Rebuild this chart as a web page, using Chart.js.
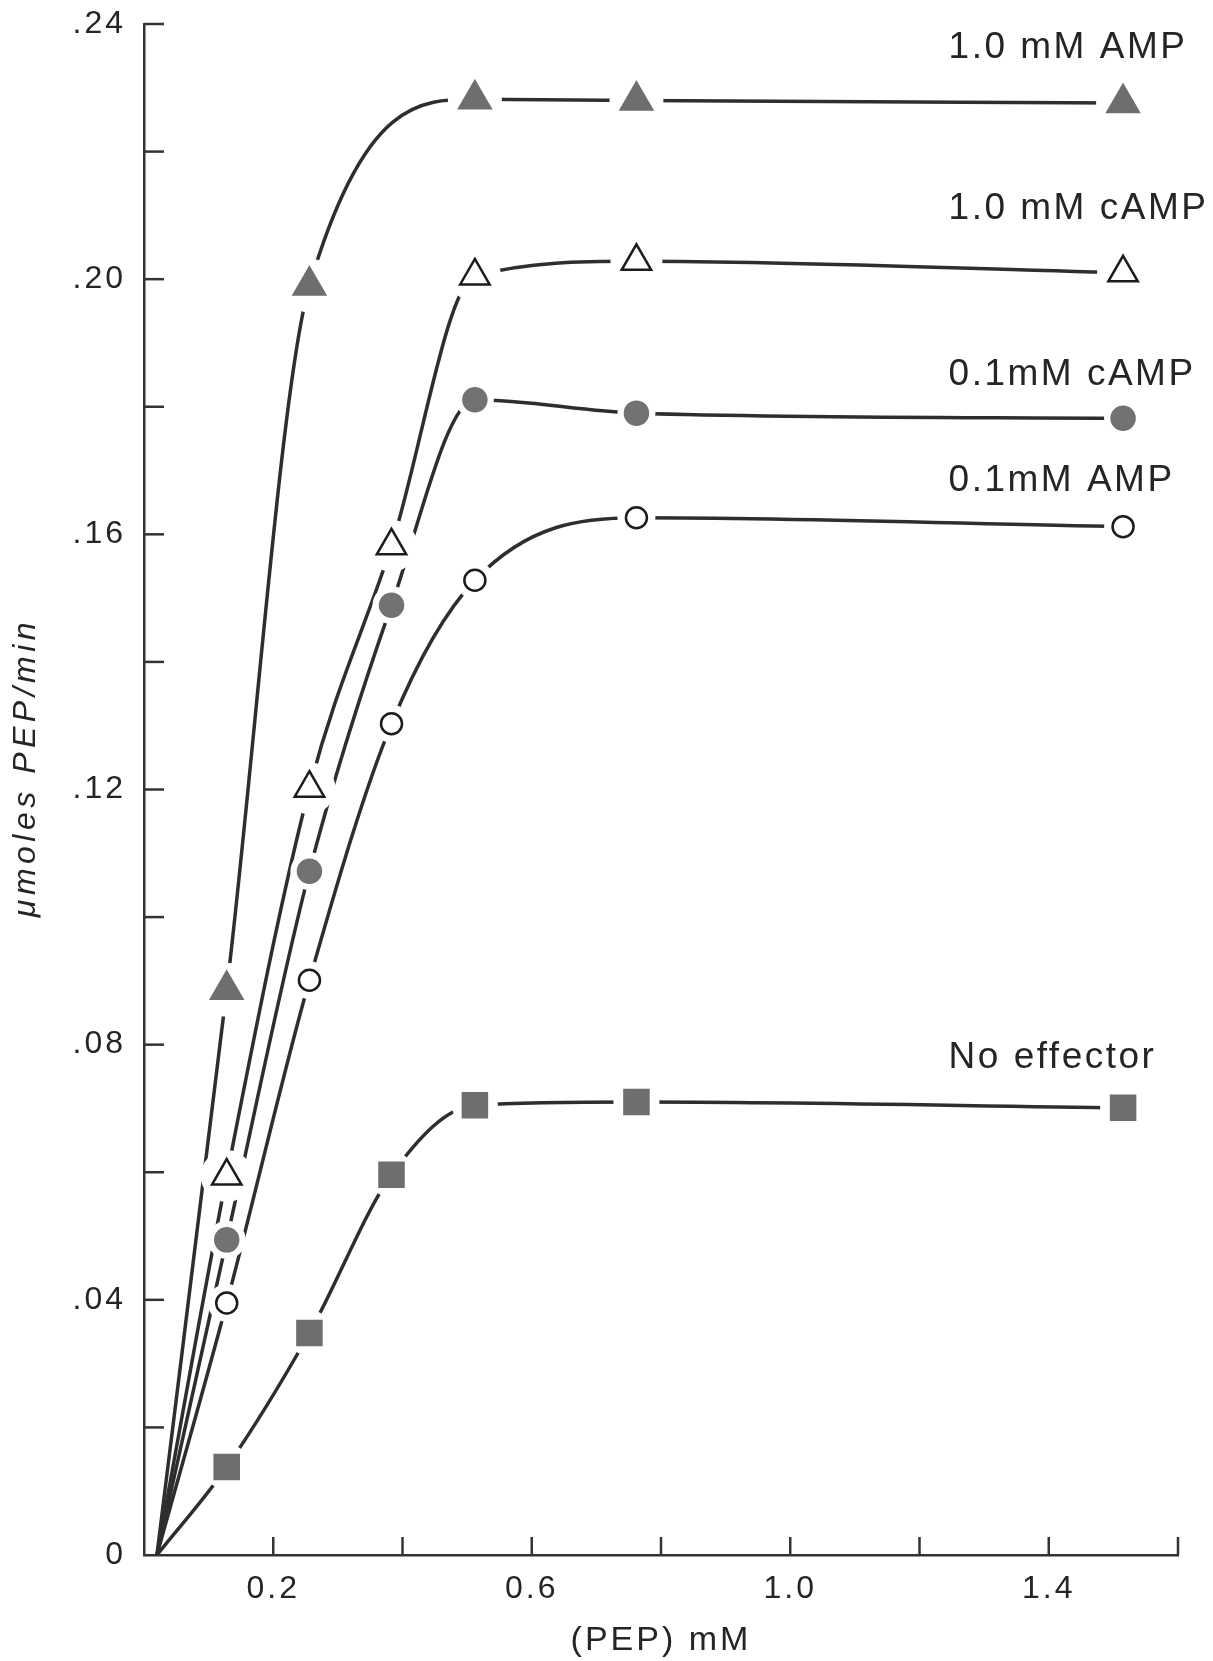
<!DOCTYPE html>
<html>
<head>
<meta charset="utf-8">
<script src="https://cdn.jsdelivr.net/npm/chart.js@4.4.1/dist/chart.umd.min.js"></script>
<style>
  html, body { margin: 0; padding: 0; background: #fff; }
  #wrap { width: 1213px; height: 1661px; position: relative; }
</style>
</head>
<body>
<div id="wrap"><canvas id="pep"></canvas></div>
<script>
// PEP concentrations (mM) and rates (umoles PEP/min)
const pepConc = [0.128, 0.256, 0.383, 0.512, 0.762, 1.515];
const curveStart = 0.02; // the curves all leave the x axis here
const seriesNames = ['1.0 mM AMP', '1.0 mM cAMP', '0.1mM cAMP', '0.1mM AMP', 'No effector'];
const amp10 = [0.0886, 0.199, null, 0.2282, 0.228, 0.2276];
const camp10 = [0.0594, 0.1202, 0.1582, 0.2005, 0.2028, 0.201];
const camp01 = [0.0494, 0.1072, 0.1489, 0.1811, 0.179, 0.1782];
const amp01 = [0.0395, 0.0901, 0.1303, 0.1528, 0.1626, 0.1612];
const noEffector = [0.0138, 0.0348, 0.0596, 0.0705, 0.071, 0.0701];

const xTickValues = [0.2, 0.6, 1.0, 1.4];
const xTickLabels = ['0.2', '0.6', '1.0', '1.4'];
const yTickValues = [0, 0.04, 0.08, 0.12, 0.16, 0.20, 0.24];
const yTickLabels = ['0', '.04', '.08', '.12', '.16', '.20', '.24'];
const yTitle = 'μmoles PEP/min';

// where each series name is written (data units)
const labelSpots = [[1.245, 0.2363], [1.245, 0.2111], [1.245, 0.185], [1.245, 0.1684], [1.245, 0.0779]];

const ink = '#252525';
const face = '"Liberation Sans", Arial, sans-serif';
const markerStyles = [
  { shape: 'triangle', r: 18, fill: '#6e6e6e', edge: '#6e6e6e', gap: 27 },
  { shape: 'triangle', r: 17, fill: '#ffffff', edge: '#1c1c1c', gap: 26 },
  { shape: 'circle', r: 11.5, fill: '#727272', edge: '#727272', gap: 19 },
  { shape: 'circle', r: 10.5, fill: '#ffffff', edge: '#1c1c1c', gap: 19 },
  { shape: 'rect', r: 17, fill: '#6e6e6e', edge: '#6e6e6e', gap: 23 }
];

function pickLabel(values, labels, v) {
  const i = values.findIndex(t => Math.abs(t - v) < 1e-6);
  return i < 0 ? '' : labels[i];
}

const datasets = [];
[amp10, camp10, camp01, amp01, noEffector].forEach((vals, i) => {
  const pts = pepConc.map((x, j) => ({ x: x, y: vals[j] })).filter(p => p.y !== null);
  const st = markerStyles[i];
  // the curve
  datasets.push({
    label: seriesNames[i], data: [{ x: curveStart, y: 0 }].concat(pts),
    borderColor: '#2e2e2e', borderWidth: 3.5, pointRadius: 0,
    cubicInterpolationMode: 'monotone', fill: false, order: 3
  });
  // white patch so lines stop short of the symbols
  datasets.push({
    label: seriesNames[i] + ' gap', data: pts, showLine: false,
    pointStyle: 'circle', pointRadius: st.gap, pointBackgroundColor: '#fff', pointBorderWidth: 0, order: 2
  });
  // the symbols
  datasets.push({
    label: seriesNames[i] + ' pts', data: pts, showLine: false,
    pointStyle: st.shape, pointRadius: st.r, pointBackgroundColor: st.fill,
    pointBorderColor: st.edge, pointBorderWidth: 2.5, order: 1
  });
});

const innerTicks = {
  id: 'innerTicks',
  beforeDraw(chart) {
    chart.ctx.letterSpacing = '3px';
  },
  beforeDatasetsDraw(chart) {
    const { ctx, scales: { x, y } } = chart;
    ctx.save();
    ctx.strokeStyle = '#333';
    ctx.lineWidth = 2.5;
    x.ticks.forEach(t => {
      if (t.value <= 0) return;
      const px = x.getPixelForValue(t.value);
      ctx.beginPath(); ctx.moveTo(px, x.top); ctx.lineTo(px, x.top - 18); ctx.stroke();
    });
    y.ticks.forEach(t => {
      if (t.value <= 0) return;
      const py = y.getPixelForValue(t.value);
      ctx.beginPath(); ctx.moveTo(y.right, py); ctx.lineTo(y.right + 20, py); ctx.stroke();
    });
    ctx.restore();
  }
};

const textLayer = {
  id: 'textLayer',
  afterDatasetsDraw(chart) {
    const { ctx, scales: { x, y } } = chart;
    ctx.save();
    ctx.font = '37px ' + face;
    ctx.letterSpacing = '2.5px';
    ctx.fillStyle = ink;
    ctx.textAlign = 'left';
    ctx.textBaseline = 'middle';
    seriesNames.forEach((name, i) => {
      ctx.fillText(name, x.getPixelForValue(labelSpots[i][0]), y.getPixelForValue(labelSpots[i][1]));
    });
    ctx.restore();

    // y axis title, sits a little above the middle of the axis as in the original
    ctx.save();
    ctx.font = 'italic 32px ' + face;
    ctx.letterSpacing = '4.5px';
    ctx.fillStyle = ink;
    ctx.textAlign = 'center';
    ctx.textBaseline = 'middle';
    ctx.translate(26, (y.top + y.bottom) / 2 - 22);
    ctx.rotate(-Math.PI / 2);
    ctx.fillText(yTitle, 0, 0);
    ctx.restore();
  }
};

new Chart(document.getElementById('pep'), {
  type: 'line',
  data: { datasets: datasets },
  plugins: [innerTicks, textLayer],
  options: {
    responsive: true,
    maintainAspectRatio: false,
    animation: false,
    events: [],
    layout: { autoPadding: false, padding: { top: 24, right: 35, left: 0, bottom: 0 } },
    plugins: { legend: { display: false }, tooltip: { enabled: false } },
    scales: {
      x: {
        type: 'linear', min: 0, max: 1.6,
        afterFit: s => { s.height = 106; },
        ticks: {
          stepSize: 0.2, autoSkip: false, maxRotation: 0, padding: 15, color: ink,
          font: { family: face, size: 32 },
          callback: v => pickLabel(xTickValues, xTickLabels, v)
        },
        grid: { drawOnChartArea: false, drawTicks: false },
        border: { color: '#333', width: 2.5 },
        title: {
          display: true, text: '(PEP) mM', color: ink, padding: { top: 2, bottom: 0 },
          font: { family: face, size: 34 }
        }
      },
      y: {
        min: 0, max: 0.24,
        afterFit: s => { s.width = 144; },
        ticks: {
          stepSize: 0.02, autoSkip: false, padding: 18, color: ink,
          // small lineHeight keeps the top label from pushing the plot down
          font: { family: face, size: 32, lineHeight: 0.3 },
          callback: v => pickLabel(yTickValues, yTickLabels, v)
        },
        grid: { drawOnChartArea: false, drawTicks: false },
        border: { color: '#333', width: 2.5 }
      }
    }
  }
});
</script>
</body>
</html>
